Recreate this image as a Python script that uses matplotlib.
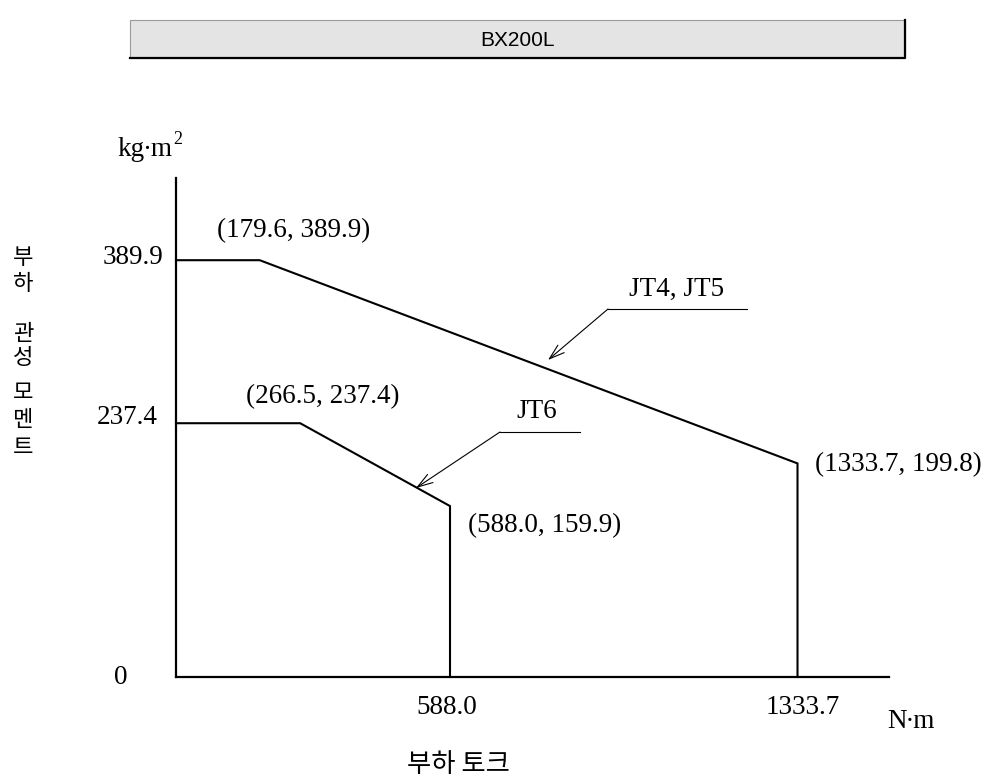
import matplotlib
matplotlib.use("Agg")
import matplotlib.pyplot as plt
import matplotlib.patches as mpatches
from matplotlib.lines import Line2D

# ── data ──────────────────────────────────────────────────────────────
jt45_torque = [0, 179.6, 1333.7, 1333.7]
jt45_inertia = [389.9, 389.9, 199.8, 0]
jt6_torque = [0, 266.5, 588.0, 588.0]
jt6_inertia = [237.4, 237.4, 159.9, 0]

ytick_labels = ["0", "237.4", "389.9"]
xtick_labels = ["588.0", "1333.7"]

W, H = 991, 783
SERIF = ["Liberation Serif", "DejaVu Serif"]
KR = ["Noto Sans CJK KR", "DejaVu Sans"]

fig = plt.figure(figsize=(W / 100, H / 100), dpi=100)


def fp(x, y):
    # pixel (from top-left) -> figure fraction
    return x / W, 1 - y / H


ax_l, ax_r, ax_t, ax_b = 176, 889, 178, 677
ax = fig.add_axes([ax_l / W, 1 - ax_b / H, (ax_r - ax_l) / W, (ax_b - ax_t) / H])
ax.set_xlim(0, (ax_r - ax_l) / 0.466)
ax.set_ylim(0, (ax_b - ax_t) / 1.069)
ax.spines[["top", "right"]].set_visible(False)
for s in ("left", "bottom"):
    ax.spines[s].set_linewidth(1.6)
ax.set_xticks([])
ax.set_yticks([])
ax.patch.set_alpha(0)

ax.plot(jt45_torque, jt45_inertia, color="black", lw=1.5, solid_joinstyle="miter", clip_on=False)
ax.plot(jt6_torque, jt6_inertia, color="black", lw=1.5, solid_joinstyle="miter", clip_on=False)

# ── title box ──
bx0, by0, bx1, by1 = 130, 20, 905, 58
fig.add_artist(mpatches.Rectangle(fp(bx0, by1), (bx1 - bx0) / W, (by1 - by0) / H,
                                  transform=fig.transFigure, facecolor="#e4e4e4",
                                  edgecolor="#9a9a9a", linewidth=0.8))
fig.add_artist(Line2D([bx0 / W, bx1 / W, bx1 / W], [1 - by1 / H, 1 - by1 / H, 1 - by0 / H],
                      transform=fig.transFigure, color="black", lw=1.6))
fig.text(*fp((bx0 + bx1) / 2, (by0 + by1) / 2 + 1), "BX200L", ha="center", va="center",
         fontsize=15, family=["Liberation Sans", "DejaVu Sans"])

# ── tick labels ──
tk = dict(fontsize=19.5, family=SERIF, va="center")
fig.text(*fp(121, 677), ytick_labels[0], ha="center", **tk)
fig.text(*fp(158, 418), ytick_labels[1], ha="right", **tk)
fig.text(*fp(163, 257), ytick_labels[2], ha="right", **tk)
fig.text(*fp(447, 707), xtick_labels[0], ha="center", **tk)
fig.text(*fp(803, 707), xtick_labels[1], ha="center", **tk)
fig.text(*fp(911, 722), "N\u2219m", ha="center", **tk)
fig.text(*fp(117, 150), "kg\u2219m", ha="left", **tk)
fig.text(*fp(173, 139), "2", ha="left", fontsize=13, family=SERIF, va="center")

# ── point labels ──
pts = [
    (jt45_torque[1], jt45_inertia[1], 217, 231),
    (jt6_torque[1], jt6_inertia[1], 246, 397),
    (jt6_torque[2], jt6_inertia[2], 468, 526),
    (jt45_torque[2], jt45_inertia[2], 815, 465),
]
for xv, yv, px, py in pts:
    fig.text(*fp(px, py), f"({xv:.1f}, {yv:.1f})", ha="left", **tk)

# ── callouts ──
fig.text(*fp(677, 289), "JT4, JT5", ha="center", **tk)
fig.text(*fp(537, 412), "JT6", ha="center", **tk)
for (x0, x1, y), (tx, ty) in [((608, 747, 309), (548, 360)), ((500, 580, 432), (416, 488))]:
    fig.add_artist(Line2D([x0 / W, x1 / W], [1 - y / H, 1 - y / H],
                          transform=fig.transFigure, color="black", lw=0.8))
    ax.annotate("", xy=fp(tx, ty), xytext=fp(x0, y), xycoords="figure fraction",
                textcoords="figure fraction", annotation_clip=False,
                arrowprops=dict(arrowstyle="->,head_length=1.1,head_width=0.35",
                                color="black", lw=0.8, shrinkA=0, shrinkB=0))

# ── axis titles (Korean) ──
for ch, py in zip("부하관성모멘트", [257, 283, 333, 358, 393, 420, 447]):
    fig.text(*fp(23, py), ch, ha="center", va="center", fontsize=16, family=KR)
fig.text(*fp(458, 765), "부하 토크", ha="center", va="center", fontsize=19, family=KR)

fig.savefig("out.png", dpi=100)
